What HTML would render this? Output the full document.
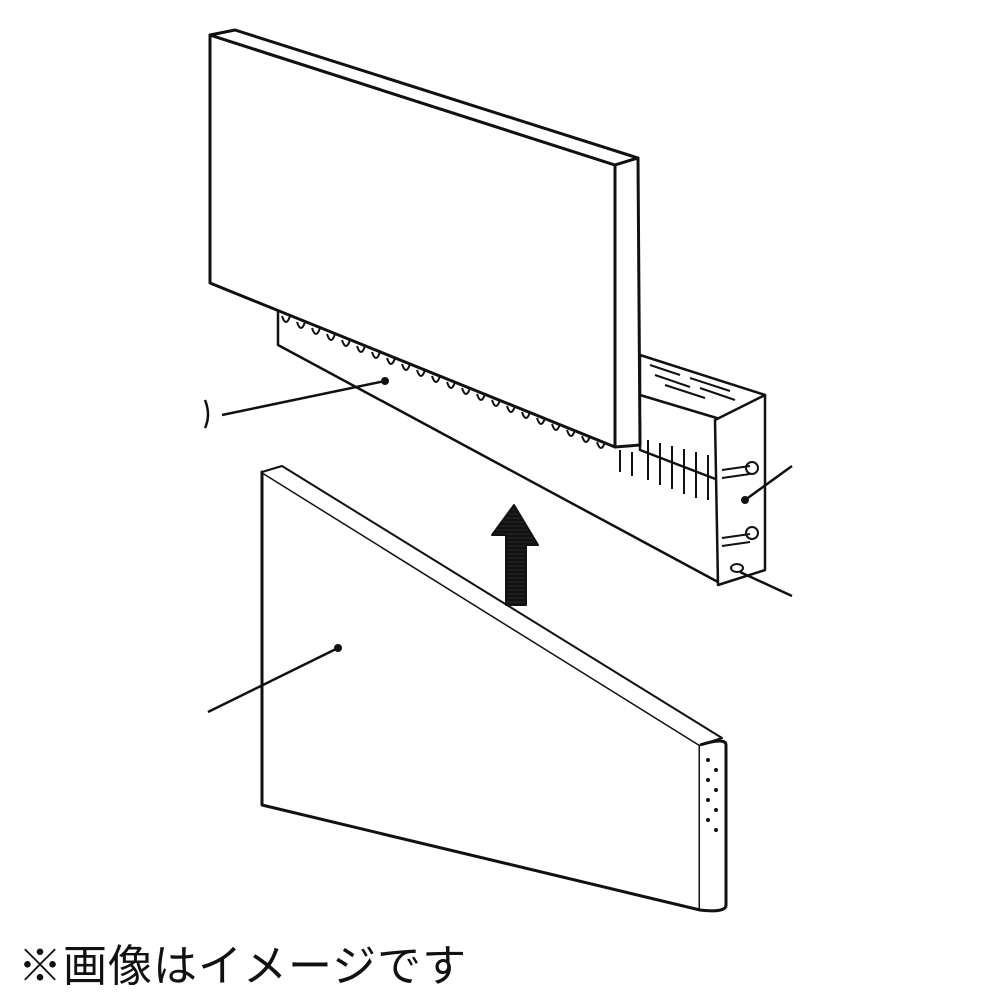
<!DOCTYPE html>
<html><head><meta charset="utf-8"><style>
html,body{margin:0;padding:0;background:#fff;width:1000px;height:1000px;overflow:hidden}
.cap{position:absolute;left:18px;top:930px;font-family:"Liberation Sans","Noto Sans CJK JP",sans-serif;font-size:44px;color:#111;letter-spacing:1px}
</style></head><body>
<svg width="1000" height="1000" style="position:absolute;left:0;top:0" stroke="#111" fill="none" stroke-width="3" stroke-linejoin="round">
<defs><pattern id="h" width="4" height="4" patternUnits="userSpaceOnUse"><rect width="4" height="4" fill="#888"/><path d="M0,2 h4" stroke="#222" stroke-width="1.5"/></pattern></defs>
<!-- back bracket -->
<polygon points="278,295 640,420 640,450 718,480 718,582 278,345" fill="#fff" stroke-width="2.5"/>
<g stroke-width="2">
<path d="M620,450 v22 M632,452 v24 M648,440 v40 M660,443 v42 M672,446 v43 M684,449 v45 M696,452 v46 M708,455 v45"/>
</g>
<!-- shelf top -->
<polygon points="640,355 765,395 740,425 640,395" fill="#fff" stroke-width="2.5"/>
<g stroke-width="2"><path d="M650,365 l30,10 M655,375 l35,12 M665,385 l40,13 M690,378 l40,13 M700,388 l35,12"/></g>
<!-- right side face -->
<polygon points="715,420 765,395 765,570 718,585" fill="#fff" stroke-width="2.5"/>
<g stroke-width="2">
<circle cx="752" cy="468" r="6"/><path d="M722,470 l28,-4 M722,478 l28,-4"/>
<circle cx="752" cy="533" r="6"/><path d="M722,538 l28,-4 M722,546 l28,-4"/>
<ellipse cx="737" cy="568" rx="6" ry="4"/>
</g>
<!-- top panel -->
<polygon points="210,35 615,165 615,447 210,283" fill="#fff"/>
<polygon points="210,35 235,30 638,158 615,165" fill="#fff"/>
<polygon points="615,165 638,158 640,445 615,447" fill="#fff"/>
<!-- scallops under panel -->
<g stroke-width="2" id="sc"></g>
<!-- bottom panel -->
<polygon points="262,472 700,745 700,910 262,805" fill="#fff"/>
<path d="M262,472 l20,-6 l440,272 l-22,7" fill="#fff" stroke-width="2"/>
<path d="M700,745 q26,-8 26,0 v160 q0,8 -26,5" fill="#fff"/>
<g fill="#111" stroke="none">
<circle cx="708" cy="760" r="2"/><circle cx="716" cy="770" r="2"/><circle cx="708" cy="780" r="2"/><circle cx="716" cy="790" r="2"/><circle cx="708" cy="800" r="2"/><circle cx="716" cy="810" r="2"/><circle cx="708" cy="820" r="2"/><circle cx="716" cy="830" r="2"/>
</g>
<!-- arrow -->
<path d="M506,605 v-70 h-14 l22,-30 l24,40 h-12 v60 z" fill="url(#h)" stroke-width="2"/>
<!-- leaders -->
<g stroke-width="2.5">
<path d="M222,415 L385,381"/><path d="M208,712 L338,648"/><path d="M745,500 L792,466"/><path d="M740,572 L792,596"/>
<path d="M205,400 q6,15 0,28"/>
</g>
<g fill="#111" stroke="none"><circle cx="385" cy="381" r="4"/><circle cx="338" cy="648" r="4"/><circle cx="745" cy="500" r="4"/></g>
<g stroke-width="2">
<path d="M282,316 q4,12 8,0 M297,322 q4,12 8,0 M312,328 q4,12 8,0 M327,334 q4,12 8,0 M342,340 q4,12 8,0 M357,346 q4,12 8,0 M372,352 q4,12 8,0 M387,358 q4,12 8,0 M402,364 q4,12 8,0 M417,370 q4,12 8,0 M432,376 q4,12 8,0 M447,382 q4,12 8,0 M462,388 q4,12 8,0 M477,394 q4,12 8,0 M492,400 q4,12 8,0 M507,406 q4,12 8,0 M522,412 q4,12 8,0 M537,418 q4,12 8,0 M552,424 q4,12 8,0 M567,430 q4,12 8,0 M582,436 q4,12 8,0 M597,442 q4,12 8,0"/>
</g>
</svg>
<div class="cap">※画像はイメージです</div>
</body></html>
